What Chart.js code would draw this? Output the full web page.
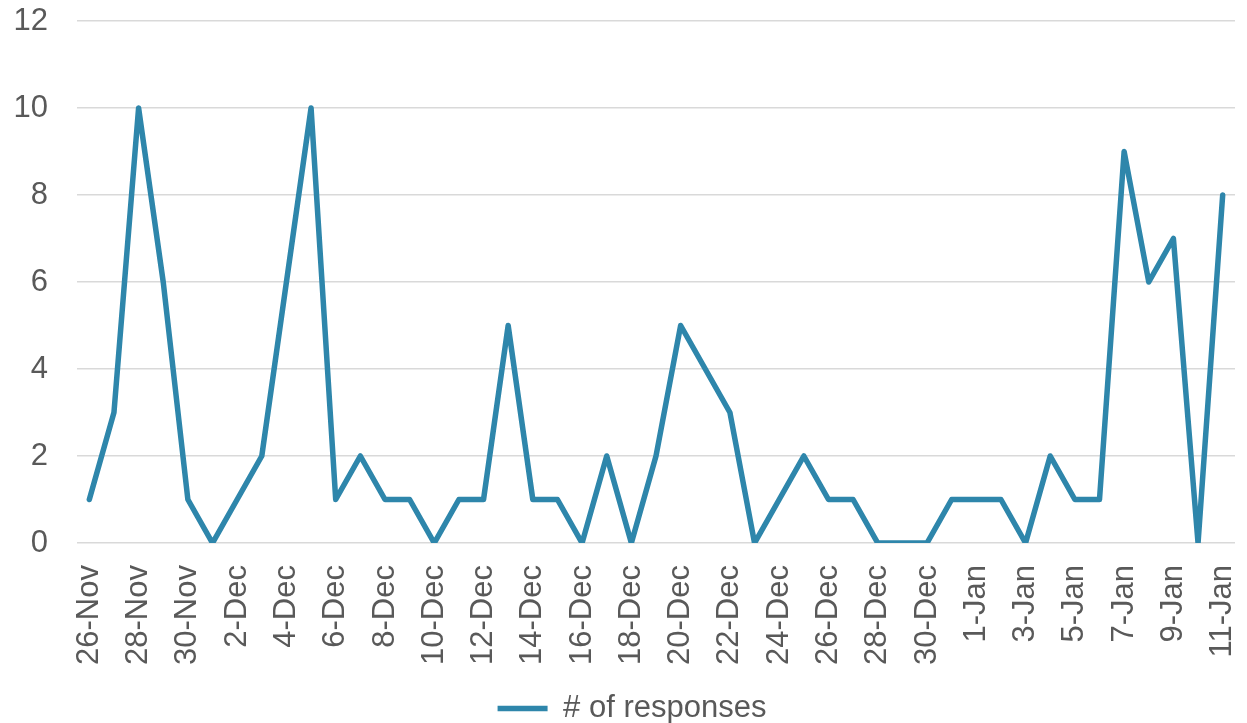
<!DOCTYPE html>
<html>
<head>
<meta charset="utf-8">
<script src="https://cdn.jsdelivr.net/npm/chart.js@4.4.1/dist/chart.umd.min.js"></script>
<style>
html,body{margin:0;padding:0;background:#fff;overflow:hidden;}
#wrap{width:1247px;height:723px;overflow:hidden;}
</style>
</head>
<body>
<div id="wrap"><canvas id="c" width="1247" height="734"></canvas></div>
<script>
const categories = [
 '26-Nov','27-Nov','28-Nov','29-Nov','30-Nov',
 '1-Dec','2-Dec','3-Dec','4-Dec','5-Dec','6-Dec','7-Dec','8-Dec','9-Dec','10-Dec',
 '11-Dec','12-Dec','13-Dec','14-Dec','15-Dec','16-Dec','17-Dec','18-Dec','19-Dec','20-Dec',
 '21-Dec','22-Dec','23-Dec','24-Dec','25-Dec','26-Dec','27-Dec','28-Dec','29-Dec','30-Dec','31-Dec',
 '1-Jan','2-Jan','3-Jan','4-Jan','5-Jan','6-Jan','7-Jan','8-Jan','9-Jan','10-Jan','11-Jan'
];
const responses = [
 1,3,10,6,1,
 0,1,2,6,10,1,2,1,1,0,
 1,1,5,1,1,0,2,0,2,5,
 4,3,0,1,2,1,1,0,0,0,1,
 1,1,0,2,1,1,9,6,7,0,8
];
const yTicks = [0,2,4,6,8,10,12];
const seriesName = '# of responses';

Chart.defaults.font.family = "'Liberation Sans', Arial, sans-serif";
Chart.defaults.color = '#595959';

const legendShift = {
  id: 'legendShift',
  afterLayout(chart) {
    if (chart.legend) { chart.legend.left = 29; }
  }
};

new Chart(document.getElementById('c'), {
  type: 'line',
  data: {
    labels: categories,
    datasets: [{
      label: seriesName,
      data: responses,
      borderColor: '#2E86AB',
      backgroundColor: '#2E86AB',
      borderWidth: 5.5,
      borderJoinStyle: 'round',
      borderCapStyle: 'round',
      pointRadius: 0,
      pointHoverRadius: 0,
      tension: 0,
      fill: false
    }]
  },
  plugins: [legendShift],
  options: {
    responsive: false,
    animation: false,
    events: [],
    layout: { padding: { top: 21, right: 12, left: 0, bottom: 0 } },
    plugins: {
      tooltip: { enabled: false },
      legend: {
        display: true,
        position: 'bottom',
        labels: {
          usePointStyle: true,
          pointStyle: 'line',
          pointStyleWidth: 50,
          boxHeight: 31,
          padding: 1,
          font: { size: 31 },
          color: '#595959'
        }
      }
    },
    scales: {
      x: {
        offset: true,
        grid: { display: false, drawTicks: false },
        border: { display: false },
        afterFit: (s) => { s.height = 149; s.paddingLeft = 0; s.paddingRight = 0; },
        ticks: {
          autoSkip: false,
          maxRotation: 90,
          minRotation: 90,
          padding: 22,
          font: { size: 31 },
          color: '#595959',
          callback: function(v, i) { return i % 2 === 0 ? categories[i] : ''; }
        }
      },
      y: {
        min: yTicks[0],
        max: yTicks[yTicks.length - 1],
        afterBuildTicks: (s) => { s.ticks = yTicks.map(v => ({ value: v })); },
        afterFit: (s) => { s.width = 77; s.paddingTop = 0; s.paddingBottom = 0; },
        grid: { color: '#d9d9d9', lineWidth: 1.5, drawTicks: false },
        border: { display: false },
        ticks: {
          padding: 29,
          font: { size: 31 },
          color: '#595959'
        }
      }
    }
  }
});
</script>
</body>
</html>
